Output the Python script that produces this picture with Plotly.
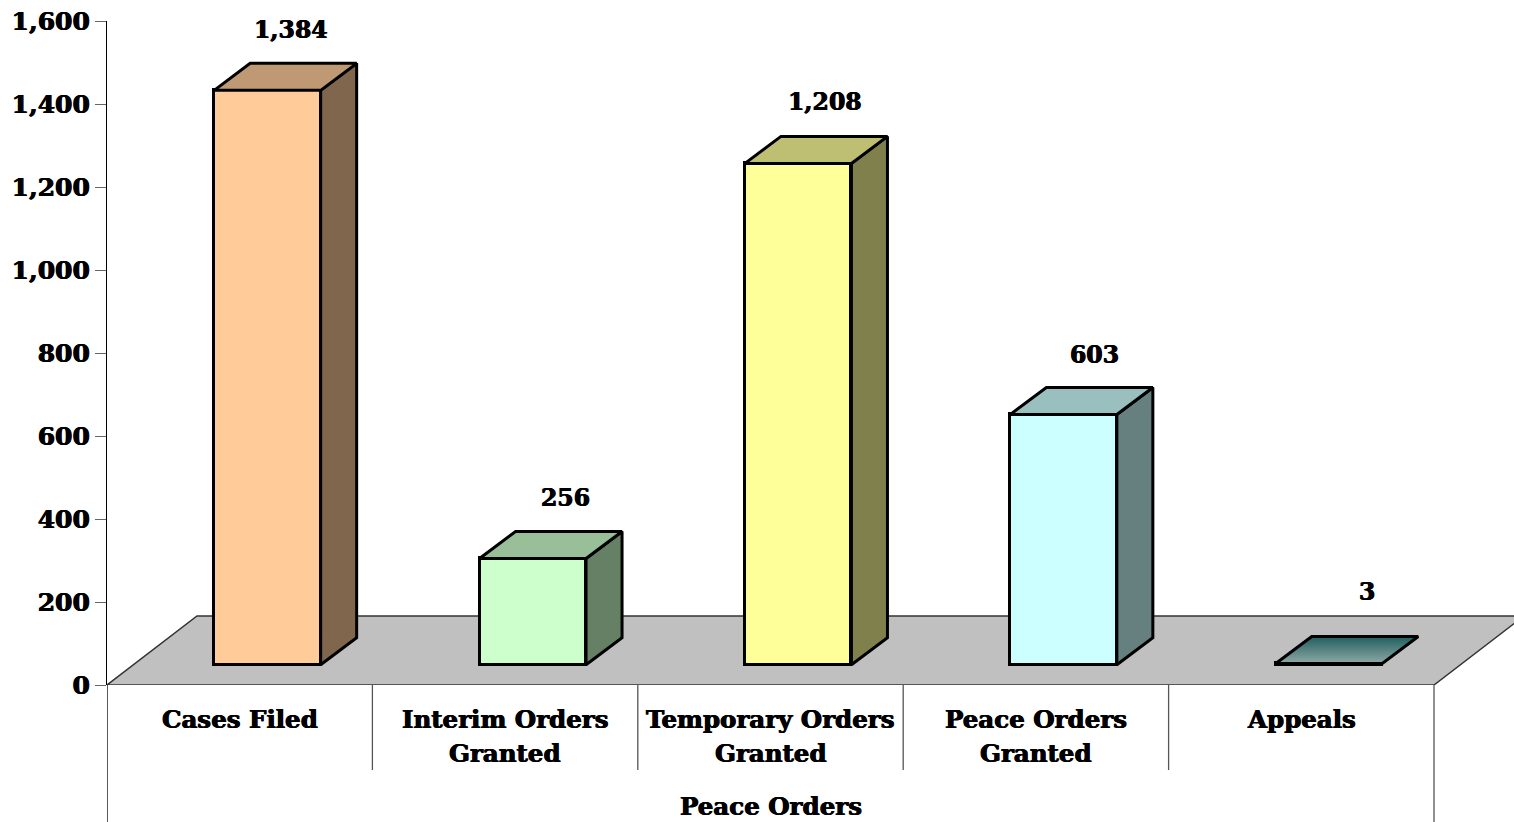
import plotly.graph_objects as go

categories = ["Cases Filed", "Interim Orders|Granted", "Temporary Orders|Granted", "Peace Orders|Granted", "Appeals"]
values = [1384, 256, 1208, 603, 3]
front_colors = ["#FFCC99", "#CCFFCC", "#FFFF99", "#CCFFFF", "#003333"]
top_colors = ["#BF9973", "#99BF99", "#BFBF73", "#99BFBF", "#336666"]
side_colors = ["#80664D", "#668066", "#80804D", "#668080", "#1A4040"]
y_ticks = [0, 200, 400, 600, 800, 1000, 1200, 1400, 1600]
axis_title = "Peace Orders"
label_dx_px = [51, 60, 54, 59, 66]
label_dy_px = [33, 33, 34, 32, 44]

W, H = 1514, 822
L, T, B = 107, 21, 685
CAT_PX = 265.4
Y_PX = (B - T) / 1600
BAR_PX = 106.5
DEPTH_X, DEPTH_Y = 36, 27
FRONT_X, FRONT_Y = 27.7, 20.3
FLOOR_X, FLOOR_Y = 90, 69
FONT = "DejaVu Serif"
SHADOW = "0.5px 0 0 black, -0.5px 0 0 black"
bold = lambda size: dict(family=FONT, size=size, color="black", weight="bold", shadow=SHADOW)

dx = lambda px: px / CAT_PX
dy = lambda px: px / Y_PX
x_max = -0.5 + (W - L) / CAT_PX
LW = 3

fig = go.Figure()

# floor, kept in the shape layer so it sits under every bar
fx = [-0.5, -0.5 + dx(FLOOR_X), 4.5 + dx(FLOOR_X), 4.5]
fy = [0, dy(FLOOR_Y), dy(FLOOR_Y), 0]
floor_path = "M " + " L ".join(f"{a},{b}" for a, b in zip(fx, fy)) + " Z"
fig.add_shape(type="path", path=floor_path, xref="x", yref="y", layer="below",
              fillcolor="#C0C0C0", line=dict(color="#333333", width=1.5))

# front faces
xs = [i + dx(FRONT_X) for i in range(len(values))]
base = dy(FRONT_Y)
fig.add_trace(go.Bar(x=xs, y=values, base=[base] * len(values), width=dx(BAR_PX),
                     marker=dict(color=front_colors, line=dict(color="black", width=LW)),
                     showlegend=False))

# side and top faces
for i, v in enumerate(values):
    x0, x1 = xs[i] - dx(BAR_PX) / 2, xs[i] + dx(BAR_PX) / 2
    ddx, ddy = dx(DEPTH_X), dy(DEPTH_Y)
    top = base + v
    if v > 10:
        fig.add_trace(go.Scatter(
            x=[x1, x1 + ddx, x1 + ddx, x1, x1], y=[base, base + ddy, top + ddy, top, base],
            mode="lines", fill="toself", fillcolor=side_colors[i],
            line=dict(color="black", width=LW), hoverinfo="skip", showlegend=False))
    top_kw = dict(fillcolor=top_colors[i])
    if v <= 10:
        top_kw = dict(fillgradient=dict(type="vertical",
                                        colorscale=[[0, "#8FA8A5"], [1, "#1F5F5F"]]))
    fig.add_trace(go.Scatter(
        x=[x0, x1, x1 + ddx, x0 + ddx, x0], y=[top, top, top + ddy, top + ddy, top],
        mode="lines", fill="toself", line=dict(color="black", width=LW),
        hoverinfo="skip", showlegend=False, **top_kw))
    fig.add_annotation(x=i, y=top + ddy, xref="x", yref="y", text=f"{v:,}", showarrow=False,
                       xshift=label_dx_px[i], yshift=label_dy_px[i], font=bold(23.5))

# category labels below the axis
below = lambda px: -(px - B) / (B - T)
for i, c in enumerate(categories):
    for j, line in enumerate(c.split("|")):
        fig.add_annotation(x=i, y=below(719 + 34 * j), xref="x", yref="paper", text=line,
                           showarrow=False, yanchor="middle", font=bold(24.5))
fig.add_annotation(x=2, y=below(806), xref="x", yref="paper", text=axis_title, showarrow=False,
                   yanchor="middle", font=bold(24.5))

# multi-level axis separators
for k in range(6):
    edge = k in (0, 5)
    fig.add_shape(type="line", xref="x", yref="paper", x0=k - 0.5, x1=k - 0.5, y0=0,
                  y1=below(H if edge else 770),
                  line=dict(color="black" if k == 0 else "#555555", width=1.3))

fig.update_layout(
    width=W, height=H, margin=dict(l=L, r=0, t=T, b=H - B, pad=0, autoexpand=False),
    plot_bgcolor="rgba(0,0,0,0)", paper_bgcolor="white", showlegend=False, bargap=0,
    xaxis=dict(range=[-0.5, x_max], showgrid=False, zeroline=False, showticklabels=False,
               ticks="", showline=False),
    yaxis=dict(range=[0, 1600], tickvals=y_ticks, tickformat=",d", showgrid=False, zeroline=False,
               showline=True, linecolor="black", linewidth=1.3, ticks="outside", ticklen=11,
               tickcolor="#666666", tickwidth=1.2, layer="above traces", tickfont=bold(25)),
)

fig.write_html("out.html", config={"displayModeBar": False},
               post_script="document.body.style.margin='0';document.body.style.overflow='hidden';")
